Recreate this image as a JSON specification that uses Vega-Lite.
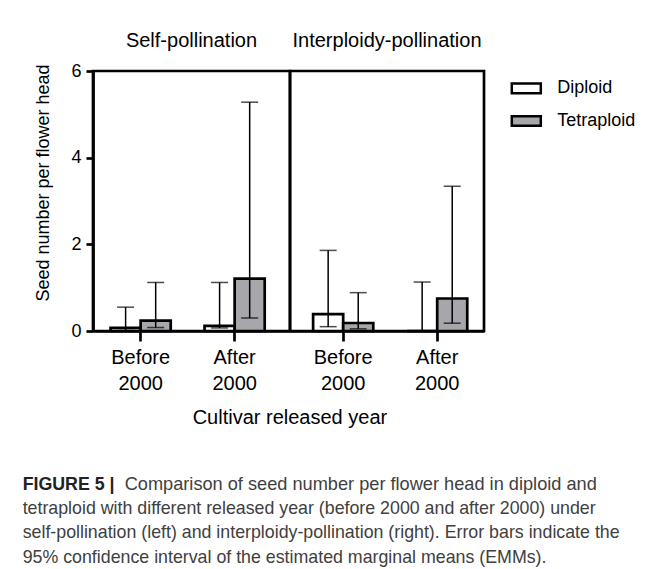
{
  "$schema": "https://vega.github.io/schema/vega-lite/v6.json",
  "autosize": {"type": "pad"},
  "padding": {"left": 22, "top": 29, "right": 5, "bottom": 5},
  "background": "white",
  "datasets": {
    "seeds": [
      {"poll": "Self", "year": "Before 2000", "ploidy": "Diploid", "mean": 0.07, "lo": 0.01, "hi": 0.55},
      {"poll": "Self", "year": "Before 2000", "ploidy": "Tetraploid", "mean": 0.24, "lo": 0.08, "hi": 1.12},
      {"poll": "Self", "year": "After 2000", "ploidy": "Diploid", "mean": 0.12, "lo": 0.07, "hi": 1.12},
      {"poll": "Self", "year": "After 2000", "ploidy": "Tetraploid", "mean": 1.21, "lo": 0.3, "hi": 5.28},
      {"poll": "Interploidy", "year": "Before 2000", "ploidy": "Diploid", "mean": 0.39, "lo": 0.1, "hi": 1.86},
      {"poll": "Interploidy", "year": "Before 2000", "ploidy": "Tetraploid", "mean": 0.185, "lo": 0.05, "hi": 0.885},
      {"poll": "Interploidy", "year": "After 2000", "ploidy": "Diploid", "mean": 0, "lo": 0, "hi": 1.13},
      {"poll": "Interploidy", "year": "After 2000", "ploidy": "Tetraploid", "mean": 0.75, "lo": 0.18, "hi": 3.34}
    ]
  },
  "title": {
    "text": "FIGURE 5 |",
    "subtitle": [
      "tetraploid with different released year (before 2000 and after 2000) under",
      "self-pollination (left) and interploidy-pollination (right). Error bars indicate the",
      "95% confidence interval of the estimated marginal means (EMMs)."
    ],
    "orient": "bottom",
    "anchor": "start",
    "frame": "bounds",
    "dx": -10,
    "offset": -18,
    "font": "Liberation Sans",
    "fontSize": 17.8,
    "fontWeight": "bold",
    "color": "#222222",
    "subtitleFont": "Liberation Sans",
    "subtitleFontSize": 17.8,
    "subtitleColor": "#404040",
    "subtitleLineHeight": 24.7,
    "subtitlePadding": 6.4
  },
  "vconcat": [
    {
      "title": {
        "text": "Comparison of seed number per flower head in diploid and",
        "orient": "bottom",
        "anchor": "start",
        "frame": "bounds",
        "dx": 92,
        "offset": 48,
        "font": "Liberation Sans",
        "fontSize": 18.2,
        "fontWeight": "normal",
        "color": "#404040"
      },
      "vconcat": [
        {
          "title": {
            "text": "Cultivar released year",
            "orient": "bottom",
            "anchor": "start",
            "frame": "bounds",
            "dx": 160,
            "offset": 14,
            "font": "Liberation Sans",
            "fontSize": 20,
            "fontWeight": "normal",
            "color": "black"
          },
          "spacing": 0,
          "bounds": "flush",
          "resolve": {"legend": {"fill": "independent"}},
          "hconcat": [
            {
              "width": 197,
              "height": 260,
              "title": {"text": "Self-pollination", "frame": "group", "anchor": "middle", "fontSize": 20, "fontWeight": "normal", "font": "Liberation Sans", "color": "black", "offset": 11},
              "data": {"name": "seeds"},
              "transform": [{"filter": "datum.poll == 'Self'"}],
              "encoding": {
                "x": {
                  "field": "year", "type": "nominal", "sort": ["Before 2000", "After 2000"],
                  "scale": {"paddingInner": 0.36, "paddingOuter": 0.228, "align": 0.41},
                  "axis": {"title": null, "labelAngle": 0, "labelExpr": "datum.value == 'Before 2000' ? ['Before', '2000'] : ['After', '2000']", "labelFontSize": 20, "labelLineHeight": 26, "tickSize": 10, "labelPadding": 6, "labelBaseline": "top"}
                },
                "xOffset": {"field": "ploidy", "type": "nominal", "sort": ["Diploid", "Tetraploid"], "scale": {"paddingInner": 0, "paddingOuter": 0}}
              },
              "layer": [
                {
                  "mark": {"type": "bar", "stroke": "black", "strokeWidth": 2.7},
                  "encoding": {
                    "y": {"field": "mean", "type": "quantitative", "scale": {"domain": [0, 6]}, "title": "Seed number per flower head",
                      "axis": {"values": [0, 2, 4, 6], "tickSize": 7, "labelFontSize": 18, "labelPadding": 5, "titleFontSize": 18, "titleX": -41, "titleY": 111.5, "titleAngle": 270, "titleAlign": "center", "titleBaseline": "bottom"}},
                    "fill": {"field": "ploidy", "type": "nominal", "scale": {"domain": ["Diploid", "Tetraploid"], "range": ["white", "#a6a6ab"]}, "legend": null}
                  }
                },
                {
                  "mark": {"type": "rule", "color": "black", "strokeWidth": 1.5},
                  "encoding": {"y": {"field": "lo", "type": "quantitative", "title": "Seed number per flower head",
                      "axis": {"values": [0, 2, 4, 6], "tickSize": 7, "labelFontSize": 18, "labelPadding": 5, "titleFontSize": 18, "titleX": -41, "titleY": 111.5, "titleAngle": 270, "titleAlign": "center", "titleBaseline": "bottom"}}, "y2": {"field": "hi"}}
                },
                {
                  "mark": {"type": "tick", "color": "black", "thickness": 1.5, "size": 17},
                  "encoding": {"y": {"field": "hi", "type": "quantitative", "title": "Seed number per flower head",
                      "axis": {"values": [0, 2, 4, 6], "tickSize": 7, "labelFontSize": 18, "labelPadding": 5, "titleFontSize": 18, "titleX": -41, "titleY": 111.5, "titleAngle": 270, "titleAlign": "center", "titleBaseline": "bottom"}}}
                },
                {
                  "mark": {"type": "tick", "color": "black", "thickness": 1.5, "size": 17},
                  "encoding": {"y": {"field": "lo", "type": "quantitative", "title": "Seed number per flower head",
                      "axis": {"values": [0, 2, 4, 6], "tickSize": 7, "labelFontSize": 18, "labelPadding": 5, "titleFontSize": 18, "titleX": -41, "titleY": 111.5, "titleAngle": 270, "titleAlign": "center", "titleBaseline": "bottom"}}}
                }
              ]
            },
            {
              "width": 194,
              "height": 260,
              "title": {"text": "Interploidy-pollination", "frame": "group", "anchor": "middle", "fontSize": 20, "fontWeight": "normal", "font": "Liberation Sans", "color": "black", "offset": 20},
              "data": {"name": "seeds"},
              "transform": [{"filter": "datum.poll == 'Interploidy'"}],
              "encoding": {
                "x": {
                  "field": "year", "type": "nominal", "sort": ["Before 2000", "After 2000"],
                  "scale": {"paddingInner": 0.36, "paddingOuter": 0.212, "align": 0.58},
                  "axis": {"title": null, "labelAngle": 0, "labelExpr": "datum.value == 'Before 2000' ? ['Before', '2000'] : ['After', '2000']", "labelFontSize": 20, "labelLineHeight": 26, "tickSize": 10, "labelPadding": 6, "labelBaseline": "top"}
                },
                "xOffset": {"field": "ploidy", "type": "nominal", "sort": ["Diploid", "Tetraploid"], "scale": {"paddingInner": 0, "paddingOuter": 0}}
              },
              "layer": [
                {
                  "mark": {"type": "bar", "stroke": "black", "strokeWidth": 2.7},
                  "encoding": {
                    "y": {"field": "mean", "type": "quantitative", "scale": {"domain": [0, 6]}, "axis": null},
                    "fill": {"field": "ploidy", "type": "nominal", "scale": {"domain": ["Diploid", "Tetraploid"], "range": ["white", "#a6a6ab"]},
                      "legend": {"title": null, "orient": "right", "offset": 24.5, "padding": 6.3, "symbolType": "M-1.5,-0.5H1.5V0.5H-1.5Z", "symbolSize": 374, "symbolStrokeColor": "black", "symbolStrokeWidth": 2.5, "labelFontSize": 18, "labelOffset": 20, "rowPadding": 11.7, "labelColor": "black", "labelFont": "Liberation Sans"}}
                  }
                },
                {
                  "mark": {"type": "rule", "color": "black", "strokeWidth": 1.5},
                  "encoding": {"y": {"field": "lo", "type": "quantitative", "axis": null}, "y2": {"field": "hi"}}
                },
                {
                  "mark": {"type": "tick", "color": "black", "thickness": 1.5, "size": 17},
                  "encoding": {"y": {"field": "hi", "type": "quantitative", "axis": null}}
                },
                {
                  "mark": {"type": "tick", "color": "black", "thickness": 1.5, "size": 17},
                  "encoding": {"y": {"field": "lo", "type": "quantitative", "axis": null}}
                }
              ]
            }
          ]
        }
      ]
    }
  ],
  "config": {
    "font": "Liberation Sans",
    "view": {"stroke": "black", "strokeWidth": 2.7},
    "axis": {
      "domainColor": "black", "domainWidth": 2.7, "tickColor": "black", "tickWidth": 2.7,
      "labelColor": "black", "titleColor": "black", "grid": false,
      "labelFont": "Liberation Sans", "titleFont": "Liberation Sans", "titleFontWeight": "normal"
    },
    "axisY": {"labelFontSize": 18, "tickSize": 7, "labelPadding": 5, "titleFontSize": 18},
    "axisQuantitative": {"labelFontSize": 18}
  }
}
